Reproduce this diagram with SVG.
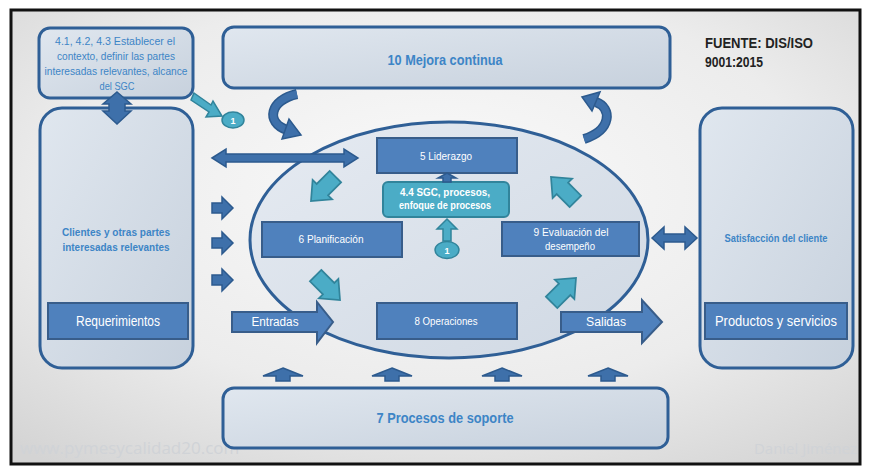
<svg xmlns="http://www.w3.org/2000/svg" xmlns:xlink="http://www.w3.org/1999/xlink" width="871" height="468" viewBox="0 0 871 468">
<defs>
<radialGradient id="bg" cx="0.5" cy="0.4" r="0.75">
<stop offset="0" stop-color="#FAFAFA"/>
<stop offset="0.6" stop-color="#ECECEC"/>
<stop offset="1" stop-color="#D4D4D4"/>
</radialGradient>
<linearGradient id="boxfill" x1="0" y1="0" x2="1" y2="1">
<stop offset="0" stop-color="#E0E7EF"/>
<stop offset="1" stop-color="#C7D1DD"/>
</linearGradient>
<linearGradient id="ellfill" x1="0" y1="0" x2="1" y2="1">
<stop offset="0" stop-color="#E6EBF2"/>
<stop offset="1" stop-color="#CFD8E3"/>
</linearGradient>
<polygon id="tarrow" points="-14,-7 2,-7 2,-12 16,0 2,12 2,7 -14,7"/>
<polygon id="uparrow" points="0,-7 20,1 7,1 7,6 -7,6 -7,1 -20,1"/>
<polygon id="rarrow" points="-10,-5 0,-5 0,-11 11,0 0,11 0,5 -10,5"/>
<style>
.lbox{fill:url(#boxfill);stroke:#2F5F96;stroke-width:3}
.bbox{fill:#4F81BD;stroke:#385D8A;stroke-width:2}
.tbox{fill:#4BACC6;stroke:#31849B;stroke-width:2}
.darr{fill:#3E70AA;stroke:#2C5A8E;stroke-width:1.5}
.tarr{fill:#4BACC6;stroke:#31849B;stroke-width:1.5}
.wt{font-family:"Liberation Sans",Arial,sans-serif;fill:#FFFFFF;text-anchor:middle}
.bt{font-family:"Liberation Sans",Arial,sans-serif;fill:#3D85C6;text-anchor:middle}
.bb{font-family:"Liberation Sans",Arial,sans-serif;fill:#3D85C6;text-anchor:middle;font-weight:bold}
.wm{font-family:"Open Sans","Liberation Sans",sans-serif;fill:#D0D3D7}
</style>
</defs>
<rect x="0" y="0" width="871" height="468" fill="#FFFFFF"/>
<rect x="11" y="10" width="849" height="454" fill="url(#bg)" stroke="#111111" stroke-width="3"/>

<text class="wm" x="20" y="454" font-size="17">www.pymesycalidad20.com</text>
<text class="wm" x="857" y="454" font-size="15" text-anchor="end">Daniel Jiménez</text>

<g id="fuente">
<text x="705" y="48" font-family="'Liberation Sans',Arial,sans-serif" font-weight="bold" font-size="14" fill="#222222" textLength="108" lengthAdjust="spacingAndGlyphs">FUENTE: DIS/ISO</text>
<text x="705" y="67" font-family="'Liberation Sans',Arial,sans-serif" font-weight="bold" font-size="14" fill="#222222" textLength="58" lengthAdjust="spacingAndGlyphs">9001:2015</text>
</g>

<g id="ellipse">
<ellipse cx="449" cy="240" rx="199" ry="118" fill="url(#ellfill)" stroke="#2F5F96" stroke-width="3"/>
</g>

<g id="contexto">
<rect class="lbox" x="39" y="28" width="154" height="70" rx="11"/>
<text class="bt" x="115" y="45" font-size="10.5" textLength="120" lengthAdjust="spacingAndGlyphs">4.1, 4.2, 4.3 Establecer el</text>
<text class="bt" x="116" y="60" font-size="10.5" textLength="118" lengthAdjust="spacingAndGlyphs">contexto, definir las partes</text>
<text class="bt" x="116" y="75" font-size="10.5" textLength="143" lengthAdjust="spacingAndGlyphs">interesadas relevantes, alcance</text>
<text class="bt" x="117" y="90" font-size="10.5" textLength="35" lengthAdjust="spacingAndGlyphs">del SGC</text>
</g>

<g id="mejora">
<rect class="lbox" x="223" y="27" width="447" height="61" rx="11"/>
<text class="bb" x="445" y="65" font-size="14" textLength="115" lengthAdjust="spacingAndGlyphs">10 Mejora continua</text>
</g>

<g id="clientes">
<rect class="lbox" x="40" y="108" width="153" height="260" rx="22"/>
<text class="bb" x="116" y="236" font-size="10.5" textLength="108" lengthAdjust="spacingAndGlyphs">Clientes y otras partes</text>
<text class="bb" x="116" y="251" font-size="10.5" textLength="107" lengthAdjust="spacingAndGlyphs">interesadas relevantes</text>
</g>

<g id="requerimientos">
<rect class="bbox" x="48" y="303" width="140" height="36"/>
<text class="wt" x="118" y="326" font-size="14" textLength="84" lengthAdjust="spacingAndGlyphs">Requerimientos</text>
</g>

<g id="satisfaccion">
<rect class="lbox" x="700" y="108" width="153" height="260" rx="22"/>
<text class="bb" x="776" y="242" font-size="10.5" textLength="103" lengthAdjust="spacingAndGlyphs">Satisfacción del cliente</text>
</g>

<g id="productos">
<rect class="bbox" x="705" y="303" width="142" height="36"/>
<text class="wt" x="776" y="326" font-size="14" textLength="122" lengthAdjust="spacingAndGlyphs">Productos  y servicios</text>
</g>

<g id="soporte">
<rect class="lbox" x="223" y="388" width="445" height="60" rx="11"/>
<text class="bb" x="445" y="423" font-size="14" textLength="137" lengthAdjust="spacingAndGlyphs">7 Procesos de soporte</text>
</g>

<g id="liderazgo">
<rect class="bbox" x="377" y="138" width="140" height="35"/>
<text class="wt" x="446" y="160" font-size="10" textLength="52" lengthAdjust="spacingAndGlyphs">5 Liderazgo</text>
</g>

<g id="sgc">
<rect class="tbox" x="383" y="182" width="126" height="35" rx="5"/>
<text class="wt" x="445" y="196" font-size="10" font-weight="bold" textLength="90" lengthAdjust="spacingAndGlyphs">4.4 SGC, procesos,</text>
<text class="wt" x="445" y="209" font-size="10" font-weight="bold" textLength="92" lengthAdjust="spacingAndGlyphs">enfoque de procesos</text>
</g>

<g id="planificacion">
<rect class="bbox" x="262" y="222" width="140" height="35"/>
<text class="wt" x="331" y="243" font-size="10" textLength="65" lengthAdjust="spacingAndGlyphs">6 Planificación</text>
</g>

<g id="evaluacion">
<rect class="bbox" x="502" y="222" width="137" height="34"/>
<text class="wt" x="571" y="236" font-size="10" textLength="75" lengthAdjust="spacingAndGlyphs">9 Evaluación del</text>
<text class="wt" x="570" y="250" font-size="10" textLength="50" lengthAdjust="spacingAndGlyphs">desempeño</text>
</g>

<g id="operaciones">
<rect class="bbox" x="377" y="303" width="140" height="36"/>
<text class="wt" x="446" y="325" font-size="10" textLength="63" lengthAdjust="spacingAndGlyphs">8 Operaciones</text>
</g>

<g id="uno-a">
<ellipse cx="233" cy="120" rx="11" ry="8" class="tarr"/>
<text class="wt" x="233" y="123.5" font-size="9" font-weight="bold">1</text>
</g>

<g id="uno-b">
<ellipse cx="447" cy="250" rx="12" ry="8.5" class="tarr"/>
<text class="wt" x="447" y="253.5" font-size="9" font-weight="bold">1</text>
</g>

<g id="connectors">
<polygon class="darr" points="117,92 131,104 125,104 125,111 131,111 117,124 103,111 109,111 109,104 103,104"/>
<polygon class="tarr" points="194,93 211,105 213,101 222,116 206,117 209,112 191,100"/>
<path d="M297,94 C270,100 265,122 287,130" fill="none" stroke="#2C5A8E" stroke-width="10"/>
<path d="M297,94 C270,100 265,122 287,130" fill="none" stroke="#3E70AA" stroke-width="7"/>
<polygon class="darr" points="282,139 289,119 301,135"/>
<path d="M584,139 C612,130 612,108 596,102" fill="none" stroke="#2C5A8E" stroke-width="10"/>
<path d="M584,139 C612,130 612,108 596,102" fill="none" stroke="#3E70AA" stroke-width="7"/>
<polygon class="darr" points="600,92 592,111 582,97"/>
<polygon class="darr" points="212,158 226,149 226,154 344,154 344,149 358,158 344,167 344,162 226,162 226,167"/>
<use xlink:href="#rarrow" class="darr" transform="translate(222,208)"/>
<use xlink:href="#rarrow" class="darr" transform="translate(222,243)"/>
<use xlink:href="#rarrow" class="darr" transform="translate(222,280)"/>
<polygon class="darr" points="652,238 664,227 664,234 685,234 685,227 697,238 685,249 685,242 664,242 664,249"/>
<polygon class="bbox" points="232,312 317,312 317,302 333,322 317,343 317,332 232,332"/>
<text class="wt" x="275" y="326" font-size="12" textLength="47" lengthAdjust="spacingAndGlyphs">Entradas</text>
<polygon class="bbox" points="561,312 642,312 642,300 662,322 642,343 642,332 561,332"/>
<text class="wt" x="606" y="326" font-size="12" textLength="40" lengthAdjust="spacingAndGlyphs">Salidas</text>
<polygon class="darr" points="447,173 456,178 451,178 451,182 443,182 443,178 438,178"/>
<polygon class="tarr" points="447,219 457,229 451,229 451,241 443,241 443,229 437,229"/>
<use xlink:href="#tarrow" class="tarr" transform="translate(324,188) rotate(135) scale(1.15)"/>
<use xlink:href="#tarrow" class="tarr" transform="translate(327,287) rotate(45) scale(1.15)"/>
<use xlink:href="#tarrow" class="tarr" transform="translate(563,291) rotate(-45) scale(1.15)"/>
<use xlink:href="#tarrow" class="tarr" transform="translate(564,190) rotate(-135) scale(1.15)"/>
<use xlink:href="#uparrow" class="darr" transform="translate(283,375)"/>
<use xlink:href="#uparrow" class="darr" transform="translate(392,375)"/>
<use xlink:href="#uparrow" class="darr" transform="translate(502,375)"/>
<use xlink:href="#uparrow" class="darr" transform="translate(608,375)"/>
</g>
</svg>
